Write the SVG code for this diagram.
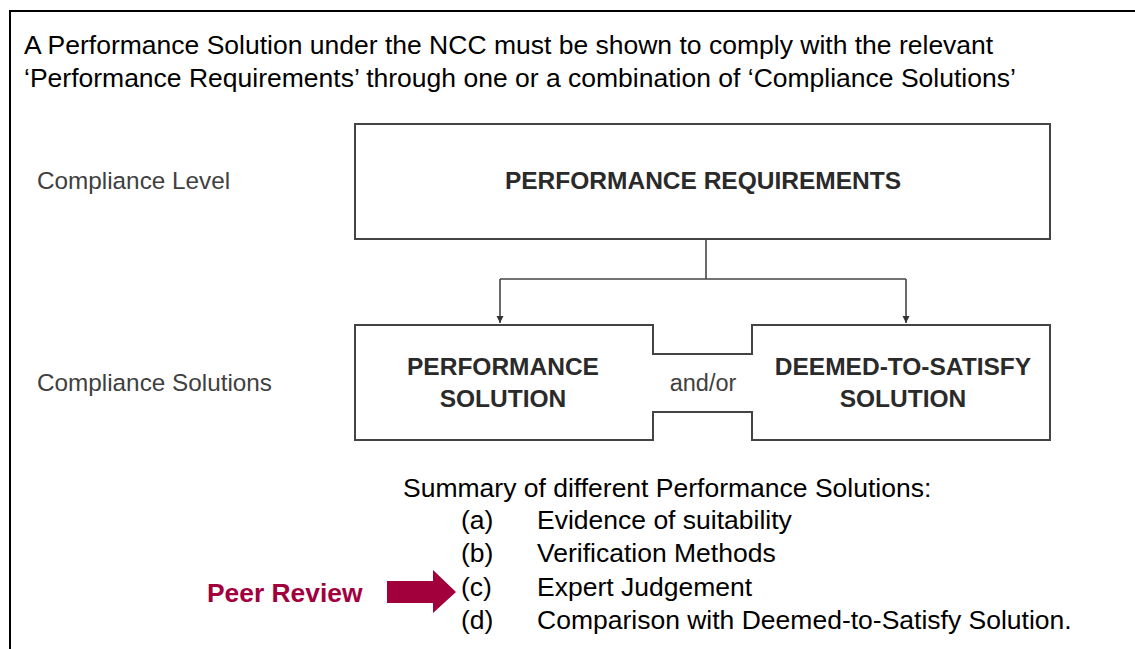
<svg xmlns="http://www.w3.org/2000/svg" width="1135" height="649" viewBox="0 0 1135 649">
<style>
.hdr{font-family:"Liberation Sans",Arial,sans-serif;font-size:26.5px;fill:#000}
.lbl{font-family:"Liberation Sans",Arial,sans-serif;font-size:24.3px;fill:#404040}
.bold{font-family:"Liberation Sans",Arial,sans-serif;font-size:24.5px;font-weight:bold;fill:#2a2a2a;text-anchor:middle}
.box{fill:#fff;stroke:#444;stroke-width:2}
.conn{fill:none;stroke:#444;stroke-width:1.6}
.peer{font-family:"Liberation Sans",Arial,sans-serif;font-size:26.4px;font-weight:bold;fill:#A1003D}
</style>
<defs>
<marker id="ah" viewBox="0 0 10 10" refX="10" refY="5" markerWidth="7" markerHeight="10" markerUnits="userSpaceOnUse" orient="auto">
<path d="M0,0 L10,5 L0,10 Z" fill="#333"/>
</marker>
</defs>
<rect width="1135" height="649" fill="#fff"/>
<path d="M10,649 L10,11 L1135,11" fill="none" stroke="#000" stroke-width="2"/>
<g id="header">
<text class="hdr" x="24" y="54">A Performance Solution under the NCC must be shown to comply with the relevant</text>
<text class="hdr" x="24" y="87">‘Performance Requirements’ through one or a combination of ‘Compliance Solutions’</text>
</g>
<g id="level-labels">
<text class="lbl" x="37" y="189">Compliance Level</text>
<text class="lbl" x="37" y="391">Compliance Solutions</text>
</g>
<g id="connectors">
<path class="conn" d="M706,240 L706,279"/>
<path class="conn" d="M500,279 L906,279"/>
<path class="conn" d="M500,279 L500,323" marker-end="url(#ah)"/>
<path class="conn" d="M906,279 L906,323" marker-end="url(#ah)"/>
</g>
<g id="performance-requirements">
<rect class="box" x="355" y="124" width="695" height="115"/>
<text class="bold" x="703" y="189">PERFORMANCE REQUIREMENTS</text>
</g>
<g id="solutions">
<path class="box" d="M355,325 L653,325 L653,354 L752,354 L752,325 L1050,325 L1050,440 L752,440 L752,412 L653,412 L653,440 L355,440 Z"/>
<text class="bold" x="503" y="375">PERFORMANCE</text>
<text class="bold" x="503" y="407">SOLUTION</text>
<text class="lbl" x="703" y="391" text-anchor="middle" style="font-size:23.5px">and/or</text>
<text class="bold" x="903" y="375">DEEMED-TO-SATISFY</text>
<text class="bold" x="903" y="407">SOLUTION</text>
</g>
<g id="summary">
<text class="hdr" x="403" y="497">Summary of different Performance Solutions:</text>
<text class="hdr" x="461" y="529">(a)</text><text class="hdr" x="537" y="529">Evidence of suitability</text>
<text class="hdr" x="461" y="562">(b)</text><text class="hdr" x="537" y="562">Verification Methods</text>
<text class="hdr" x="461" y="596">(c)</text><text class="hdr" x="537" y="596">Expert Judgement</text>
<text class="hdr" x="461" y="629">(d)</text><text class="hdr" x="537" y="629">Comparison with Deemed-to-Satisfy Solution.</text>
</g>
<g id="peer-review">
<text class="peer" x="207" y="602">Peer Review</text>
<path d="M387,581 L433,581 L433,570 L456,592 L433,613 L433,603 L387,603 Z" fill="#A1003D"/>
</g>
</svg>
